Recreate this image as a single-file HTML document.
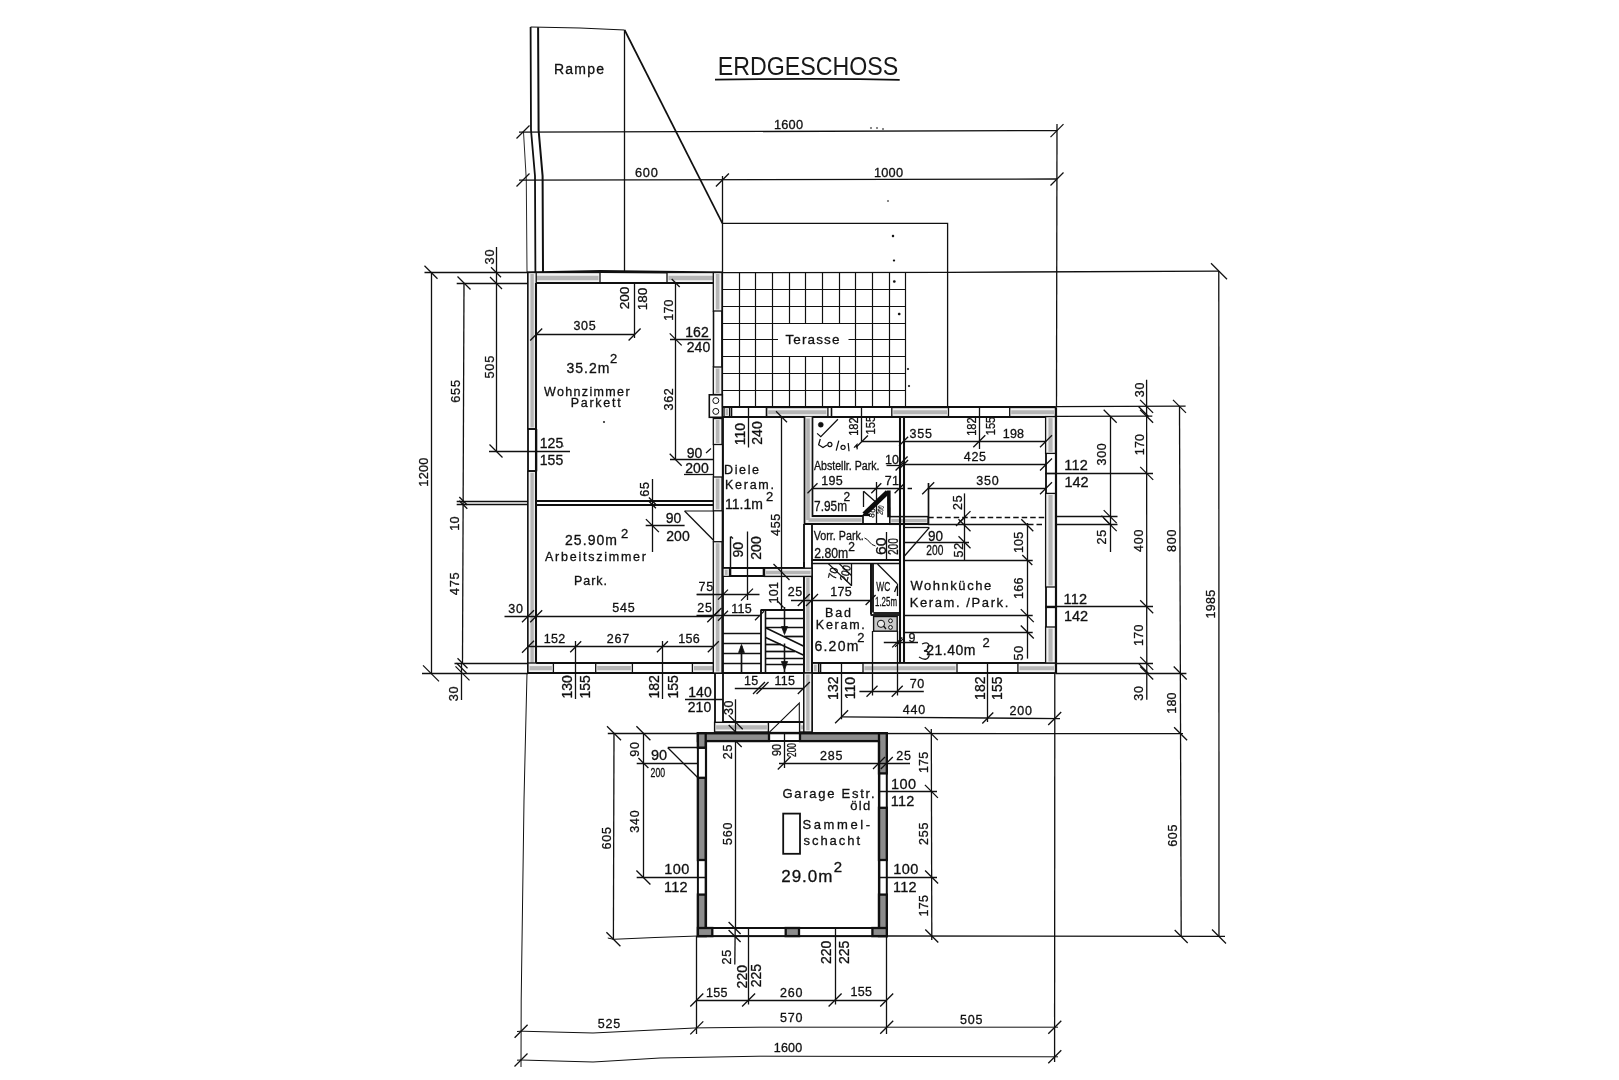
<!DOCTYPE html>
<html><head><meta charset="utf-8"><title>Erdgeschoss</title>
<style>
html,body{margin:0;padding:0;background:#ffffff;}
svg{display:block;font-family:"Liberation Sans",sans-serif;filter:grayscale(1);}
</style></head><body>
<svg width="1619" height="1080" viewBox="0 0 1619 1080">
<rect x="0" y="0" width="1619" height="1080" fill="#ffffff"/>
<text x="808" y="74.61" font-size="25.3" text-anchor="middle" textLength="180.5" lengthAdjust="spacingAndGlyphs" fill="#181818" stroke="#181818" stroke-width="0">ERDGESCHOSS</text>
<path d="M715 79.6 L760 79.2 L808 78.8 L860 79.2 L899.7 79.8" fill="none" stroke="#101010" stroke-width="1.7" stroke-linejoin="miter"/>
<path d="M530.6 27 L531 130 L535 176 L535.4 272" fill="none" stroke="#101010" stroke-width="1.8" stroke-linejoin="miter"/>
<path d="M538.1 27.3 L538.6 130 L542.6 176 L543 272" fill="none" stroke="#101010" stroke-width="2.0" stroke-linejoin="miter"/>
<path d="M523.5 132 L526.3 180 L527 272" fill="none" stroke="#101010" stroke-width="0.9" stroke-linejoin="miter"/>
<path d="M530.6 27 L580 28 L624.6 30" fill="none" stroke="#101010" stroke-width="1.1" stroke-linejoin="miter"/>
<line x1="624.5" y1="30" x2="624.5" y2="272" stroke="#101010" stroke-width="1.3"/>
<line x1="624.6" y1="30" x2="722.4" y2="223.3" stroke="#101010" stroke-width="1.6900000000000002"/>
<path d="M722.4 223.3 L947.6 223.3 L947.6 407" fill="none" stroke="#101010" stroke-width="1.3" stroke-linejoin="miter"/>
<line x1="722.5" y1="176" x2="722.5" y2="272" stroke="#101010" stroke-width="1.3"/>
<text x="579" y="73.54" font-size="14" text-anchor="middle" textLength="50" lengthAdjust="spacing" fill="#101010" stroke="#101010" stroke-width="0.3">Rampe</text>
<line x1="519" y1="132.2" x2="1057" y2="130.6" stroke="#101010" stroke-width="1.3"/>
<line x1="516.5" y1="138.5" x2="529.5" y2="125.5" stroke="#101010" stroke-width="1.3"/>
<line x1="1050.5" y1="137.1" x2="1063.5" y2="124.1" stroke="#101010" stroke-width="1.3"/>
<text x="788.625" y="129.11" font-size="12.8" text-anchor="middle" letter-spacing="0.25" fill="#101010" stroke="#101010" stroke-width="0.3">1600</text>
<line x1="519" y1="180.2" x2="1057" y2="179" stroke="#101010" stroke-width="1.3"/>
<line x1="516.5" y1="186.5" x2="529.5" y2="173.5" stroke="#101010" stroke-width="1.3"/>
<line x1="715.9" y1="186.5" x2="728.9" y2="173.5" stroke="#101010" stroke-width="1.3"/>
<line x1="1050.5" y1="185.5" x2="1063.5" y2="172.5" stroke="#101010" stroke-width="1.3"/>
<text x="646.775" y="177.11" font-size="12.8" text-anchor="middle" letter-spacing="0.75" fill="#101010" stroke="#101010" stroke-width="0.3">600</text>
<text x="888.625" y="177.11" font-size="12.8" text-anchor="middle" letter-spacing="0.25" fill="#101010" stroke="#101010" stroke-width="0.3">1000</text>
<line x1="1057" y1="124" x2="1056.5" y2="407" stroke="#101010" stroke-width="1.3"/>
<line x1="947.6" y1="272.3" x2="1219" y2="271.2" stroke="#101010" stroke-width="1.3"/>
<line x1="1211" y1="263.2" x2="1227" y2="279.2" stroke="#101010" stroke-width="1.3"/>
<line x1="1218.8" y1="271" x2="1219" y2="937" stroke="#101010" stroke-width="1.3"/>
<line x1="424.5" y1="272.5" x2="528" y2="272.5" stroke="#101010" stroke-width="1.3"/>
<line x1="456.7" y1="283.5" x2="528" y2="283.5" stroke="#101010" stroke-width="1.3"/>
<line x1="431.5" y1="272" x2="431.5" y2="673.4" stroke="#101010" stroke-width="1.3"/>
<line x1="424.5" y1="265.7" x2="437.5" y2="278.7" stroke="#101010" stroke-width="1.3"/>
<line x1="423" y1="665.4" x2="439" y2="681.4" stroke="#101010" stroke-width="1.3"/>
<line x1="464" y1="283" x2="462.5" y2="663" stroke="#101010" stroke-width="1.3"/>
<line x1="457.5" y1="276.5" x2="470.5" y2="289.5" stroke="#101010" stroke-width="1.3"/>
<line x1="459.3" y1="497" x2="467.3" y2="505" stroke="#101010" stroke-width="1.3"/>
<line x1="459.3" y1="500.8" x2="467.3" y2="508.8" stroke="#101010" stroke-width="1.3"/>
<line x1="457.5" y1="658.3" x2="467.5" y2="668.3" stroke="#101010" stroke-width="1.3"/>
<line x1="455.5" y1="666.4" x2="469.5" y2="680.4" stroke="#101010" stroke-width="1.3"/>
<line x1="456.5" y1="663" x2="466.5" y2="673" stroke="#101010" stroke-width="1.3"/>
<line x1="461.5" y1="663" x2="461.5" y2="700" stroke="#101010" stroke-width="1.3"/>
<line x1="496.5" y1="247" x2="496.5" y2="451" stroke="#101010" stroke-width="1.3"/>
<line x1="491" y1="267.2" x2="501" y2="277.2" stroke="#101010" stroke-width="1.3"/>
<line x1="490" y1="277" x2="502" y2="289" stroke="#101010" stroke-width="1.3"/>
<line x1="489.5" y1="444.5" x2="502.5" y2="457.5" stroke="#101010" stroke-width="1.3"/>
<text x="489" y="261.11" font-size="12.8" text-anchor="middle" transform="rotate(-90 489 256.5)" letter-spacing="0.75" fill="#101010" stroke="#101010" stroke-width="0.3">30</text>
<text x="489" y="371.31" font-size="12.8" text-anchor="middle" transform="rotate(-90 489 366.7)" letter-spacing="0.75" fill="#101010" stroke="#101010" stroke-width="0.3">505</text>
<text x="455.6" y="395.61" font-size="12.8" text-anchor="middle" transform="rotate(-90 455.6 391)" letter-spacing="0.75" fill="#101010" stroke="#101010" stroke-width="0.3">655</text>
<text x="423" y="476.61" font-size="12.8" text-anchor="middle" transform="rotate(-90 423 472)" letter-spacing="0.25" fill="#101010" stroke="#101010" stroke-width="0.3">1200</text>
<text x="454.5" y="528.01" font-size="12.8" text-anchor="middle" transform="rotate(-90 454.5 523.4)" letter-spacing="0.25" fill="#101010" stroke="#101010" stroke-width="0.3">10</text>
<text x="454.5" y="588.01" font-size="12.8" text-anchor="middle" transform="rotate(-90 454.5 583.4)" letter-spacing="0.75" fill="#101010" stroke="#101010" stroke-width="0.3">475</text>
<text x="453.4" y="698.11" font-size="12.8" text-anchor="middle" transform="rotate(-90 453.4 693.5)" letter-spacing="0.75" fill="#101010" stroke="#101010" stroke-width="0.3">30</text>
<line x1="489" y1="451.5" x2="570" y2="451.5" stroke="#101010" stroke-width="1.3"/>
<line x1="456.7" y1="501.5" x2="528" y2="501.5" stroke="#101010" stroke-width="1.4300000000000002"/>
<line x1="456.7" y1="504.5" x2="528" y2="504.5" stroke="#101010" stroke-width="1.4300000000000002"/>
<line x1="528" y1="501.0" x2="713.5" y2="501.0" stroke="#101010" stroke-width="1.9549999999999998"/>
<line x1="528" y1="505.0" x2="713.5" y2="505.0" stroke="#101010" stroke-width="1.9549999999999998"/>
<line x1="454.5" y1="663.5" x2="528" y2="663.5" stroke="#101010" stroke-width="1.3"/>
<line x1="422" y1="673.5" x2="528" y2="673.5" stroke="#101010" stroke-width="1.3"/>
<path d="M528 673 L528 272.3 L600 271 L722 272.3" fill="none" stroke="#101010" stroke-width="1.8" stroke-linejoin="miter"/>
<rect x="528" y="272.5" width="72.00" height="10.50" fill="#f3f3f3" stroke="#101010" stroke-width="1.3"/>
<line x1="529.50" y1="277.96" x2="598.50" y2="277.96" stroke="#b6b6b6" stroke-width="4.41"/>
<rect x="667" y="272.5" width="55.00" height="10.50" fill="#f3f3f3" stroke="#101010" stroke-width="1.3"/>
<line x1="668.50" y1="277.96" x2="720.50" y2="277.96" stroke="#b6b6b6" stroke-width="4.41"/>
<line x1="600" y1="272" x2="667" y2="272.5" stroke="#101010" stroke-width="2.07"/>
<line x1="600" y1="283.0" x2="667" y2="283.0" stroke="#101010" stroke-width="2.07"/>
<rect x="528" y="272.5" width="8.20" height="156.50" fill="#f3f3f3" stroke="#101010" stroke-width="1.3"/>
<line x1="532.10" y1="274.00" x2="532.10" y2="427.50" stroke="#b6b6b6" stroke-width="3.44"/>
<line x1="528" y1="429.0" x2="536.2" y2="429.0" stroke="#101010" stroke-width="1.8399999999999999"/>
<line x1="528" y1="471.0" x2="536.2" y2="471.0" stroke="#101010" stroke-width="1.8399999999999999"/>
<line x1="536.5" y1="429" x2="536.5" y2="471.3" stroke="#101010" stroke-width="1.56"/>
<rect x="528" y="471.3" width="8.20" height="201.70" fill="#f3f3f3" stroke="#101010" stroke-width="1.3"/>
<line x1="532.10" y1="472.80" x2="532.10" y2="671.50" stroke="#b6b6b6" stroke-width="3.44"/>
<path d="M536.2 283 L713.3 283" fill="none" stroke="#101010" stroke-width="1.8" stroke-linejoin="miter"/>
<line x1="536.0" y1="283" x2="536.0" y2="663" stroke="#101010" stroke-width="2.07"/>
<rect x="528" y="663" width="25.40" height="10.00" fill="#f3f3f3" stroke="#101010" stroke-width="1.3"/>
<line x1="529.50" y1="668.20" x2="551.90" y2="668.20" stroke="#b6b6b6" stroke-width="4.20"/>
<rect x="595.7" y="663" width="36.70" height="10.00" fill="#f3f3f3" stroke="#101010" stroke-width="1.3"/>
<line x1="597.20" y1="668.20" x2="630.90" y2="668.20" stroke="#b6b6b6" stroke-width="4.20"/>
<rect x="692.4" y="663" width="29.60" height="10.00" fill="#f3f3f3" stroke="#101010" stroke-width="1.3"/>
<line x1="693.90" y1="668.20" x2="720.50" y2="668.20" stroke="#b6b6b6" stroke-width="4.20"/>
<line x1="528" y1="673.0" x2="722" y2="673.0" stroke="#101010" stroke-width="2.07"/>
<line x1="536.2" y1="663.0" x2="713.3" y2="663.0" stroke="#101010" stroke-width="2.07"/>
<rect x="713.3" y="272.5" width="8.70" height="38.50" fill="#f3f3f3" stroke="#101010" stroke-width="1.3"/>
<line x1="717.65" y1="274.00" x2="717.65" y2="309.50" stroke="#b6b6b6" stroke-width="3.65"/>
<line x1="713.5" y1="311" x2="713.5" y2="367" stroke="#101010" stroke-width="1.56"/>
<line x1="722.0" y1="311" x2="722.0" y2="367" stroke="#101010" stroke-width="1.8399999999999999"/>
<rect x="713.3" y="367" width="8.70" height="27.50" fill="#f3f3f3" stroke="#101010" stroke-width="1.3"/>
<line x1="717.65" y1="368.50" x2="717.65" y2="393.00" stroke="#b6b6b6" stroke-width="3.65"/>
<rect x="709.3" y="394.8" width="13.00" height="22.50" fill="#ffffff" stroke="#101010" stroke-width="1.6"/>
<circle cx="715.8" cy="400.6" r="3.0" fill="none" stroke="#101010" stroke-width="1.0"/>
<circle cx="715.8" cy="411.4" r="3.0" fill="none" stroke="#101010" stroke-width="1.0"/>
<rect x="713.3" y="418.5" width="8.70" height="26.00" fill="#f3f3f3" stroke="#101010" stroke-width="1.3"/>
<line x1="717.65" y1="420.00" x2="717.65" y2="443.00" stroke="#b6b6b6" stroke-width="3.65"/>
<line x1="713.5" y1="444.5" x2="713.5" y2="477" stroke="#101010" stroke-width="1.3"/>
<line x1="722.5" y1="444.5" x2="722.5" y2="477" stroke="#101010" stroke-width="1.3"/>
<rect x="713.3" y="477" width="8.70" height="33.80" fill="#f3f3f3" stroke="#101010" stroke-width="1.3"/>
<line x1="717.65" y1="478.50" x2="717.65" y2="509.30" stroke="#b6b6b6" stroke-width="3.65"/>
<line x1="713.5" y1="510.8" x2="713.5" y2="541.7" stroke="#101010" stroke-width="1.3"/>
<line x1="722.5" y1="510.8" x2="722.5" y2="541.7" stroke="#101010" stroke-width="1.6099999999999999"/>
<rect x="713.3" y="541.7" width="8.70" height="131.30" fill="#f3f3f3" stroke="#101010" stroke-width="1.3"/>
<line x1="717.65" y1="543.20" x2="717.65" y2="671.50" stroke="#b6b6b6" stroke-width="3.65"/>
<line x1="723.0" y1="417" x2="723.0" y2="673" stroke="#101010" stroke-width="1.8399999999999999"/>
<line x1="536.2" y1="334.5" x2="634.6" y2="334.5" stroke="#101010" stroke-width="1.3"/>
<line x1="530.2" y1="340.5" x2="542.2" y2="328.5" stroke="#101010" stroke-width="1.3"/>
<line x1="628.6" y1="340.5" x2="640.6" y2="328.5" stroke="#101010" stroke-width="1.3"/>
<text x="584.975" y="330.30" font-size="12.5" text-anchor="middle" letter-spacing="0.75" fill="#101010" stroke="#101010" stroke-width="0.3">305</text>
<line x1="634.5" y1="283" x2="634.5" y2="338" stroke="#101010" stroke-width="1.3"/>
<text x="624.6" y="302.86" font-size="13.5" text-anchor="middle" transform="rotate(-90 624.6 298)" fill="#101010" stroke="#101010" stroke-width="0.3">200</text>
<text x="642.6" y="303.86" font-size="13.5" text-anchor="middle" transform="rotate(-90 642.6 299)" fill="#101010" stroke="#101010" stroke-width="0.3">180</text>
<line x1="675.5" y1="283" x2="675.5" y2="459.7" stroke="#101010" stroke-width="1.3"/>
<line x1="671.7" y1="279" x2="679.7" y2="287" stroke="#101010" stroke-width="1.3"/>
<line x1="669.7" y1="333.4" x2="681.7" y2="345.4" stroke="#101010" stroke-width="1.3"/>
<line x1="669.7" y1="453.7" x2="681.7" y2="465.7" stroke="#101010" stroke-width="1.3"/>
<text x="668" y="314.50" font-size="12.5" text-anchor="middle" transform="rotate(-90 668 310)" letter-spacing="0.25" fill="#101010" stroke="#101010" stroke-width="0.3">170</text>
<text x="668" y="403.50" font-size="12.5" text-anchor="middle" transform="rotate(-90 668 399)" letter-spacing="0.75" fill="#101010" stroke="#101010" stroke-width="0.3">362</text>
<line x1="670" y1="339.5" x2="711" y2="339.5" stroke="#101010" stroke-width="1.3"/>
<text x="697" y="337.04" font-size="14" text-anchor="middle" fill="#101010" stroke="#101010" stroke-width="0.3">162</text>
<text x="698.5" y="351.84" font-size="14" text-anchor="middle" fill="#101010" stroke="#101010" stroke-width="0.3">240</text>
<line x1="670" y1="459.5" x2="713.5" y2="459.5" stroke="#101010" stroke-width="1.3"/>
<text x="694.6" y="458.34" font-size="14" text-anchor="middle" fill="#101010" stroke="#101010" stroke-width="0.3">90</text>
<text x="697" y="473.24" font-size="14" text-anchor="middle" fill="#101010" stroke="#101010" stroke-width="0.3">200</text>
<line x1="706" y1="453" x2="711" y2="448.5" stroke="#101010" stroke-width="1.1700000000000002"/>
<line x1="684" y1="474.5" x2="713" y2="474.5" stroke="#101010" stroke-width="1.3"/>
<text x="588" y="373.34" font-size="14" text-anchor="middle" textLength="43" lengthAdjust="spacing" fill="#101010" stroke="#101010" stroke-width="0.3">35.2m</text>
<text x="613.5" y="362.68" font-size="13" text-anchor="middle" fill="#101010" stroke="#101010" stroke-width="0.3">2</text>
<text x="586.8" y="396.10" font-size="12.5" text-anchor="middle" textLength="85.6" lengthAdjust="spacing" fill="#101010" stroke="#101010" stroke-width="0.3">Wohnzimmer</text>
<text x="595.7" y="406.80" font-size="12.5" text-anchor="middle" textLength="50" lengthAdjust="spacing" fill="#101010" stroke="#101010" stroke-width="0.3">Parkett</text>
<text x="551.5" y="448.34" font-size="14" text-anchor="middle" fill="#101010" stroke="#101010" stroke-width="0.3">125</text>
<text x="551.5" y="465.24" font-size="14" text-anchor="middle" fill="#101010" stroke="#101010" stroke-width="0.3">155</text>
<line x1="652.5" y1="479" x2="652.5" y2="552" stroke="#101010" stroke-width="1.3"/>
<line x1="648.9" y1="497.5" x2="655.9" y2="504.5" stroke="#101010" stroke-width="1.3"/>
<line x1="648.9" y1="501.3" x2="655.9" y2="508.3" stroke="#101010" stroke-width="1.3"/>
<line x1="645.9" y1="519.1" x2="658.9" y2="532.1" stroke="#101010" stroke-width="1.3"/>
<text x="644.6" y="493.50" font-size="12.5" text-anchor="middle" transform="rotate(-90 644.6 489)" letter-spacing="0.75" fill="#101010" stroke="#101010" stroke-width="0.3">65</text>
<line x1="645.7" y1="525.5" x2="684.6" y2="525.5" stroke="#101010" stroke-width="1.3"/>
<text x="673.5" y="522.84" font-size="14" text-anchor="middle" fill="#101010" stroke="#101010" stroke-width="0.3">90</text>
<text x="678" y="540.84" font-size="14" text-anchor="middle" fill="#101010" stroke="#101010" stroke-width="0.3">200</text>
<path d="M684.6 511 L713.3 511" fill="none" stroke="#101010" stroke-width="1.0" stroke-linejoin="miter"/>
<line x1="684.6" y1="511" x2="713.3" y2="540" stroke="#101010" stroke-width="1.3"/>
<text x="591" y="544.64" font-size="14" text-anchor="middle" textLength="52" lengthAdjust="spacing" fill="#101010" stroke="#101010" stroke-width="0.3">25.90m</text>
<text x="624.6" y="537.88" font-size="13" text-anchor="middle" fill="#101010" stroke="#101010" stroke-width="0.3">2</text>
<text x="595.5" y="561.20" font-size="12.5" text-anchor="middle" textLength="101" lengthAdjust="spacing" fill="#101010" stroke="#101010" stroke-width="0.3">Arbeitszimmer</text>
<text x="590.5" y="584.80" font-size="12.5" text-anchor="middle" textLength="33" lengthAdjust="spacing" fill="#101010" stroke="#101010" stroke-width="0.3">Park.</text>
<line x1="697" y1="594.5" x2="713.3" y2="594.5" stroke="#101010" stroke-width="1.3"/>
<text x="706.175" y="591.20" font-size="12.5" text-anchor="middle" letter-spacing="0.75" fill="#101010" stroke="#101010" stroke-width="0.3">75</text>
<line x1="504.5" y1="616.5" x2="713.3" y2="616.5" stroke="#101010" stroke-width="1.3"/>
<line x1="522" y1="622.3" x2="534" y2="610.3" stroke="#101010" stroke-width="1.3"/>
<line x1="530.2" y1="622.3" x2="542.2" y2="610.3" stroke="#101010" stroke-width="1.3"/>
<line x1="707.3" y1="622.3" x2="719.3" y2="610.3" stroke="#101010" stroke-width="1.3"/>
<text x="515.975" y="612.70" font-size="12.5" text-anchor="middle" letter-spacing="0.75" fill="#101010" stroke="#101010" stroke-width="0.3">30</text>
<text x="623.875" y="612.30" font-size="12.5" text-anchor="middle" letter-spacing="0.75" fill="#101010" stroke="#101010" stroke-width="0.3">545</text>
<text x="704.975" y="612.30" font-size="12.5" text-anchor="middle" letter-spacing="0.75" fill="#101010" stroke="#101010" stroke-width="0.3">25</text>
<line x1="528" y1="646.5" x2="713.3" y2="646.5" stroke="#101010" stroke-width="1.3"/>
<line x1="522" y1="652.8" x2="534" y2="640.8" stroke="#101010" stroke-width="1.3"/>
<line x1="570.2" y1="652.3" x2="581.2" y2="641.3" stroke="#101010" stroke-width="1.3"/>
<line x1="656.9" y1="652.3" x2="667.9" y2="641.3" stroke="#101010" stroke-width="1.3"/>
<line x1="707.8" y1="652.3" x2="718.8" y2="641.3" stroke="#101010" stroke-width="1.3"/>
<text x="554.625" y="642.50" font-size="12.5" text-anchor="middle" letter-spacing="0.25" fill="#101010" stroke="#101010" stroke-width="0.3">152</text>
<text x="618.375" y="642.50" font-size="12.5" text-anchor="middle" letter-spacing="0.75" fill="#101010" stroke="#101010" stroke-width="0.3">267</text>
<text x="689.125" y="642.50" font-size="12.5" text-anchor="middle" letter-spacing="0.25" fill="#101010" stroke="#101010" stroke-width="0.3">156</text>
<line x1="575.5" y1="641" x2="575.5" y2="699" stroke="#101010" stroke-width="1.3"/>
<line x1="662.5" y1="641" x2="662.5" y2="699" stroke="#101010" stroke-width="1.3"/>
<text x="566.8" y="691.84" font-size="14" text-anchor="middle" transform="rotate(-90 566.8 686.8)" fill="#101010" stroke="#101010" stroke-width="0.3">130</text>
<text x="584.8" y="691.84" font-size="14" text-anchor="middle" transform="rotate(-90 584.8 686.8)" fill="#101010" stroke="#101010" stroke-width="0.3">155</text>
<text x="653.5" y="691.84" font-size="14" text-anchor="middle" transform="rotate(-90 653.5 686.8)" fill="#101010" stroke="#101010" stroke-width="0.3">182</text>
<text x="672.6" y="691.84" font-size="14" text-anchor="middle" transform="rotate(-90 672.6 686.8)" fill="#101010" stroke="#101010" stroke-width="0.3">155</text>
<line x1="685" y1="699.5" x2="723" y2="699.5" stroke="#101010" stroke-width="1.3"/>
<text x="700" y="697.24" font-size="14" text-anchor="middle" fill="#101010" stroke="#101010" stroke-width="0.3">140</text>
<text x="699.5" y="711.54" font-size="14" text-anchor="middle" fill="#101010" stroke="#101010" stroke-width="0.3">210</text>
<line x1="722.5" y1="272.6" x2="722.5" y2="407.3" stroke="#101010" stroke-width="1.1960000000000002"/>
<line x1="739.5" y1="272.6" x2="739.5" y2="407.3" stroke="#101010" stroke-width="1.1960000000000002"/>
<line x1="755.5" y1="272.6" x2="755.5" y2="407.3" stroke="#101010" stroke-width="1.1960000000000002"/>
<line x1="772.5" y1="272.6" x2="772.5" y2="407.3" stroke="#101010" stroke-width="1.1960000000000002"/>
<line x1="789.5" y1="272.6" x2="789.5" y2="323.1125" stroke="#101010" stroke-width="1.1960000000000002"/>
<line x1="789.5" y1="356.7875" x2="789.5" y2="407.3" stroke="#101010" stroke-width="1.1960000000000002"/>
<line x1="805.5" y1="272.6" x2="805.5" y2="323.1125" stroke="#101010" stroke-width="1.1960000000000002"/>
<line x1="805.5" y1="356.7875" x2="805.5" y2="407.3" stroke="#101010" stroke-width="1.1960000000000002"/>
<line x1="822.5" y1="272.6" x2="822.5" y2="323.1125" stroke="#101010" stroke-width="1.1960000000000002"/>
<line x1="822.5" y1="356.7875" x2="822.5" y2="407.3" stroke="#101010" stroke-width="1.1960000000000002"/>
<line x1="839.5" y1="272.6" x2="839.5" y2="323.1125" stroke="#101010" stroke-width="1.1960000000000002"/>
<line x1="839.5" y1="356.7875" x2="839.5" y2="407.3" stroke="#101010" stroke-width="1.1960000000000002"/>
<line x1="855.5" y1="272.6" x2="855.5" y2="407.3" stroke="#101010" stroke-width="1.1960000000000002"/>
<line x1="872.5" y1="272.6" x2="872.5" y2="407.3" stroke="#101010" stroke-width="1.1960000000000002"/>
<line x1="889.5" y1="272.6" x2="889.5" y2="407.3" stroke="#101010" stroke-width="1.1960000000000002"/>
<line x1="905.5" y1="272.6" x2="905.5" y2="407.3" stroke="#101010" stroke-width="1.1960000000000002"/>
<line x1="722.6" y1="272.5" x2="905.7" y2="272.5" stroke="#101010" stroke-width="1.1960000000000002"/>
<line x1="722.6" y1="289.5" x2="905.7" y2="289.5" stroke="#101010" stroke-width="1.1960000000000002"/>
<line x1="722.6" y1="306.5" x2="905.7" y2="306.5" stroke="#101010" stroke-width="1.1960000000000002"/>
<line x1="722.6" y1="323.5" x2="905.7" y2="323.5" stroke="#101010" stroke-width="1.1960000000000002"/>
<line x1="722.6" y1="339.5" x2="778" y2="339.5" stroke="#101010" stroke-width="1.1960000000000002"/>
<line x1="848.5" y1="339.5" x2="905.7" y2="339.5" stroke="#101010" stroke-width="1.1960000000000002"/>
<line x1="722.6" y1="356.5" x2="905.7" y2="356.5" stroke="#101010" stroke-width="1.1960000000000002"/>
<line x1="722.6" y1="373.5" x2="905.7" y2="373.5" stroke="#101010" stroke-width="1.1960000000000002"/>
<line x1="722.6" y1="390.5" x2="905.7" y2="390.5" stroke="#101010" stroke-width="1.1960000000000002"/>
<line x1="722.6" y1="407.5" x2="905.7" y2="407.5" stroke="#101010" stroke-width="1.1960000000000002"/>
<line x1="722.6" y1="272.6" x2="947.6" y2="272.4" stroke="#101010" stroke-width="1.1960000000000002"/>
<text x="812.5" y="344.36" font-size="13.5" text-anchor="middle" textLength="54" lengthAdjust="spacing" fill="#101010" stroke="#101010" stroke-width="0.3">Terasse</text>
<circle cx="893" cy="236" r="1.2" fill="#101010" stroke="#101010" stroke-width="0.1"/>
<circle cx="894" cy="260.5" r="1.1" fill="#101010" stroke="#101010" stroke-width="0.1"/>
<circle cx="894.3" cy="281.5" r="1.3" fill="#101010" stroke="#101010" stroke-width="0.1"/>
<circle cx="899.2" cy="314" r="1.3" fill="#101010" stroke="#101010" stroke-width="0.1"/>
<circle cx="908" cy="369" r="1.0" fill="#101010" stroke="#101010" stroke-width="0.1"/>
<circle cx="909" cy="386" r="1.0" fill="#101010" stroke="#101010" stroke-width="0.1"/>
<circle cx="871" cy="128" r="0.8" fill="#101010" stroke="#101010" stroke-width="0.1"/>
<circle cx="877" cy="128" r="0.8" fill="#101010" stroke="#101010" stroke-width="0.1"/>
<circle cx="883" cy="129" r="0.8" fill="#101010" stroke="#101010" stroke-width="0.1"/>
<circle cx="888" cy="201" r="0.8" fill="#101010" stroke="#101010" stroke-width="0.1"/>
<circle cx="604" cy="422" r="0.9" fill="#101010" stroke="#101010" stroke-width="0.1"/>
<circle cx="563" cy="446" r="0.6" fill="#101010" stroke="#101010" stroke-width="0.1"/>
<line x1="722" y1="407.0" x2="1055.7" y2="407.0" stroke="#101010" stroke-width="2.1849999999999996"/>
<rect x="724" y="407.5" width="5.60" height="9.10" fill="#f3f3f3" stroke="#101010" stroke-width="1.3"/>
<line x1="726.80" y1="409.00" x2="726.80" y2="415.10" stroke="#b6b6b6" stroke-width="2.35"/>
<line x1="731.5" y1="407.2" x2="731.5" y2="416.6" stroke="#101010" stroke-width="1.6099999999999999"/>
<line x1="748.5" y1="407.2" x2="748.5" y2="416.6" stroke="#101010" stroke-width="1.3"/>
<line x1="766.5" y1="407.2" x2="766.5" y2="416.6" stroke="#101010" stroke-width="1.6099999999999999"/>
<rect x="766.7" y="407.5" width="61.20" height="9.10" fill="#f3f3f3" stroke="#101010" stroke-width="1.3"/>
<line x1="768.20" y1="412.23" x2="826.40" y2="412.23" stroke="#b6b6b6" stroke-width="3.82"/>
<line x1="831.5" y1="407.2" x2="831.5" y2="416.6" stroke="#101010" stroke-width="1.6099999999999999"/>
<line x1="861.5" y1="407.2" x2="861.5" y2="416.6" stroke="#101010" stroke-width="1.3"/>
<rect x="891.8" y="407.5" width="56.70" height="9.10" fill="#f3f3f3" stroke="#101010" stroke-width="1.3"/>
<line x1="893.30" y1="412.23" x2="947.00" y2="412.23" stroke="#b6b6b6" stroke-width="3.82"/>
<line x1="979.5" y1="407.2" x2="979.5" y2="416.6" stroke="#101010" stroke-width="1.3"/>
<rect x="1009.7" y="407.5" width="45.80" height="9.10" fill="#f3f3f3" stroke="#101010" stroke-width="1.3"/>
<line x1="1011.20" y1="412.23" x2="1054.00" y2="412.23" stroke="#b6b6b6" stroke-width="3.82"/>
<line x1="722.6" y1="417.0" x2="1046" y2="417.0" stroke="#101010" stroke-width="2.1849999999999996"/>
<line x1="1056.0" y1="407.2" x2="1056.0" y2="673" stroke="#101010" stroke-width="2.1849999999999996"/>
<rect x="1045.6" y="416.6" width="9.90" height="36.80" fill="#f3f3f3" stroke="#101010" stroke-width="1.3"/>
<line x1="1050.55" y1="418.10" x2="1050.55" y2="451.90" stroke="#b6b6b6" stroke-width="4.16"/>
<line x1="1046.0" y1="453.4" x2="1046.0" y2="493.4" stroke="#101010" stroke-width="1.8399999999999999"/>
<line x1="1045.6" y1="473.5" x2="1055.5" y2="473.5" stroke="#101010" stroke-width="1.3"/>
<rect x="1045.6" y="493.4" width="9.90" height="93.60" fill="#f3f3f3" stroke="#101010" stroke-width="1.3"/>
<line x1="1050.55" y1="494.90" x2="1050.55" y2="585.50" stroke="#b6b6b6" stroke-width="4.16"/>
<line x1="1046.0" y1="587" x2="1046.0" y2="627" stroke="#101010" stroke-width="1.8399999999999999"/>
<line x1="1045.6" y1="607.5" x2="1055.5" y2="607.5" stroke="#101010" stroke-width="1.3"/>
<rect x="1045.6" y="627" width="9.90" height="36.20" fill="#f3f3f3" stroke="#101010" stroke-width="1.3"/>
<line x1="1050.55" y1="628.50" x2="1050.55" y2="661.70" stroke="#b6b6b6" stroke-width="4.16"/>
<line x1="812" y1="663.0" x2="1045.6" y2="663.0" stroke="#101010" stroke-width="2.1849999999999996"/>
<line x1="722" y1="673.0" x2="1055.5" y2="673.0" stroke="#101010" stroke-width="2.1849999999999996"/>
<rect x="812" y="663.2" width="6.60" height="9.60" fill="#f3f3f3" stroke="#101010" stroke-width="1.3"/>
<line x1="815.30" y1="664.70" x2="815.30" y2="671.30" stroke="#b6b6b6" stroke-width="2.77"/>
<line x1="820.5" y1="663.2" x2="820.5" y2="672.8" stroke="#101010" stroke-width="1.6099999999999999"/>
<rect x="863" y="663.2" width="94.00" height="9.60" fill="#f3f3f3" stroke="#101010" stroke-width="1.3"/>
<line x1="864.50" y1="668.19" x2="955.50" y2="668.19" stroke="#b6b6b6" stroke-width="4.03"/>
<line x1="987.5" y1="663.2" x2="987.5" y2="672.8" stroke="#101010" stroke-width="1.3"/>
<rect x="1017.9" y="663.2" width="37.60" height="9.60" fill="#f3f3f3" stroke="#101010" stroke-width="1.3"/>
<line x1="1019.40" y1="668.19" x2="1054.00" y2="668.19" stroke="#b6b6b6" stroke-width="4.03"/>
<path d="M804.5 416.8 L804.5 524 L863 524 L863 516.2 L812.5 516.2 L812.5 416.8" fill="#ececec" stroke="#101010" stroke-width="1.7" stroke-linejoin="miter"/>
<line x1="808.0" y1="418.5" x2="808.0" y2="520" stroke="#b2b2b2" stroke-width="3.6"/>
<line x1="808.5" y1="520.0" x2="861.5" y2="520.0" stroke="#b2b2b2" stroke-width="3.6"/>
<rect x="889.8" y="516.6" width="38.40" height="7.70" fill="#f3f3f3" stroke="#101010" stroke-width="1.5"/>
<line x1="891.30" y1="520.60" x2="926.70" y2="520.60" stroke="#b6b6b6" stroke-width="3.23"/>
<line x1="804.5" y1="524.0" x2="928.2" y2="524.0" stroke="#101010" stroke-width="1.9549999999999998"/>
<line x1="812.5" y1="516.0" x2="863" y2="516.0" stroke="#101010" stroke-width="1.9549999999999998"/>
<line x1="900.0" y1="416.8" x2="900.0" y2="663" stroke="#101010" stroke-width="2.07"/>
<line x1="904.0" y1="416.8" x2="904.0" y2="663" stroke="#101010" stroke-width="2.07"/>
<line x1="804.0" y1="524" x2="804.0" y2="568.2" stroke="#101010" stroke-width="1.8399999999999999"/>
<line x1="812.0" y1="524" x2="812.0" y2="562" stroke="#101010" stroke-width="1.8399999999999999"/>
<rect x="803.8" y="576.3" width="8.20" height="96.70" fill="#f3f3f3" stroke="#101010" stroke-width="1.5"/>
<line x1="807.90" y1="577.80" x2="807.90" y2="671.50" stroke="#b6b6b6" stroke-width="3.44"/>
<line x1="804.0" y1="562" x2="804.0" y2="740" stroke="#101010" stroke-width="1.8399999999999999"/>
<line x1="812.0" y1="562" x2="812.0" y2="731" stroke="#101010" stroke-width="1.8399999999999999"/>
<line x1="723" y1="568.0" x2="803.8" y2="568.0" stroke="#101010" stroke-width="2.07"/>
<line x1="723" y1="576.0" x2="803.8" y2="576.0" stroke="#101010" stroke-width="2.07"/>
<rect x="723" y="568.2" width="6.50" height="8.20" fill="#f3f3f3" stroke="#101010" stroke-width="1.2"/>
<line x1="726.25" y1="569.70" x2="726.25" y2="574.90" stroke="#b6b6b6" stroke-width="2.73"/>
<line x1="730.5" y1="568.2" x2="730.5" y2="576.4" stroke="#101010" stroke-width="1.6099999999999999"/>
<line x1="763.5" y1="568.2" x2="763.5" y2="576.4" stroke="#101010" stroke-width="1.6099999999999999"/>
<rect x="764.5" y="568.2" width="47.50" height="8.20" fill="#f3f3f3" stroke="#101010" stroke-width="1.4"/>
<line x1="766.00" y1="572.46" x2="810.50" y2="572.46" stroke="#b6b6b6" stroke-width="3.44"/>
<line x1="811.6" y1="560.0" x2="899.6" y2="560.0" stroke="#101010" stroke-width="1.9549999999999998"/>
<line x1="811.6" y1="563.5" x2="899.6" y2="563.5" stroke="#101010" stroke-width="1.7249999999999999"/>
<line x1="871.0" y1="563.6" x2="871.0" y2="614.6" stroke="#101010" stroke-width="1.9549999999999998"/>
<line x1="873.0" y1="563.6" x2="873.0" y2="612.6" stroke="#101010" stroke-width="1.8399999999999999"/>
<line x1="873.4" y1="613.0" x2="899.6" y2="613.0" stroke="#101010" stroke-width="1.8399999999999999"/>
<line x1="870.6" y1="615.0" x2="899.6" y2="615.0" stroke="#101010" stroke-width="1.8399999999999999"/>
<rect x="873.6" y="616.5" width="23.60" height="14.70" fill="#c9c9c9" stroke="#101010" stroke-width="1.4"/>
<circle cx="881" cy="623.8" r="3.6" fill="#e8e8e8" stroke="#101010" stroke-width="1.0"/>
<circle cx="890.5" cy="620.8" r="1.9" fill="#e8e8e8" stroke="#101010" stroke-width="1.0"/>
<circle cx="890.5" cy="627.4" r="1.9" fill="#e8e8e8" stroke="#101010" stroke-width="1.0"/>
<line x1="883.5" y1="626" x2="886" y2="629" stroke="#101010" stroke-width="1.3"/>
<line x1="872.5" y1="631" x2="872.5" y2="695.5" stroke="#101010" stroke-width="1.3"/>
<line x1="897.5" y1="631" x2="897.5" y2="695.5" stroke="#101010" stroke-width="1.3"/>
<line x1="841.5" y1="663.2" x2="841.5" y2="672.8" stroke="#101010" stroke-width="1.3"/>
<text x="741.5" y="474.00" font-size="12.5" text-anchor="middle" textLength="35" lengthAdjust="spacing" fill="#101010" stroke="#101010" stroke-width="0.3">Diele</text>
<text x="749.5" y="489.00" font-size="12.5" text-anchor="middle" textLength="49" lengthAdjust="spacing" fill="#101010" stroke="#101010" stroke-width="0.3">Keram.</text>
<text x="744" y="509.04" font-size="14" text-anchor="middle" textLength="38" lengthAdjust="spacing" fill="#101010" stroke="#101010" stroke-width="0.3">11.1m</text>
<text x="769.7" y="500.88" font-size="13" text-anchor="middle" fill="#101010" stroke="#101010" stroke-width="0.3">2</text>
<line x1="748.5" y1="417" x2="748.5" y2="447.5" stroke="#101010" stroke-width="1.3"/>
<text x="739.8" y="439.04" font-size="14" text-anchor="middle" transform="rotate(-90 739.8 434)" fill="#101010" stroke="#101010" stroke-width="0.3">110</text>
<text x="757" y="438.04" font-size="14" text-anchor="middle" transform="rotate(-90 757 433)" fill="#101010" stroke="#101010" stroke-width="0.3">240</text>
<line x1="781.5" y1="416.8" x2="781.5" y2="609.7" stroke="#101010" stroke-width="1.3"/>
<text x="775.3" y="529.00" font-size="12.5" text-anchor="middle" transform="rotate(-90 775.3 524.5)" letter-spacing="0.75" fill="#101010" stroke="#101010" stroke-width="0.3">455</text>
<line x1="776.0" y1="411.3" x2="787.0" y2="422.3" stroke="#101010" stroke-width="1.3"/>
<line x1="773.5" y1="564" x2="789.5" y2="580" stroke="#101010" stroke-width="1.3"/>
<line x1="747.5" y1="531.5" x2="747.5" y2="600" stroke="#101010" stroke-width="1.3"/>
<line x1="730.5" y1="536.6" x2="730.5" y2="568.2" stroke="#101010" stroke-width="1.4300000000000002"/>
<line x1="730.8" y1="536.6" x2="733" y2="538.5" stroke="#101010" stroke-width="1.3"/>
<text x="737.8" y="554.74" font-size="14" text-anchor="middle" transform="rotate(-90 737.8 549.7)" fill="#101010" stroke="#101010" stroke-width="0.3">90</text>
<text x="756" y="553.04" font-size="14" text-anchor="middle" transform="rotate(-90 756 548)" fill="#101010" stroke="#101010" stroke-width="0.3">200</text>
<line x1="696.5" y1="594.5" x2="759.5" y2="594.5" stroke="#101010" stroke-width="1.3"/>
<line x1="718" y1="599.6" x2="728" y2="589.6" stroke="#101010" stroke-width="1.3"/>
<line x1="741" y1="600.6" x2="753" y2="588.6" stroke="#101010" stroke-width="1.3"/>
<line x1="696.5" y1="615.5" x2="759.5" y2="615.5" stroke="#101010" stroke-width="1.3"/>
<line x1="718" y1="620.7" x2="728" y2="610.7" stroke="#101010" stroke-width="1.3"/>
<line x1="712.5" y1="617.0" x2="721.5" y2="608.0" stroke="#101010" stroke-width="1.3"/>
<line x1="755.0" y1="620.2" x2="764.0" y2="611.2" stroke="#101010" stroke-width="1.3"/>
<text x="741.625" y="612.50" font-size="12.5" text-anchor="middle" letter-spacing="0.25" fill="#101010" stroke="#101010" stroke-width="0.3">115</text>
<text x="773.4" y="597.10" font-size="12.5" text-anchor="middle" transform="rotate(-90 773.4 592.6)" letter-spacing="0.25" fill="#101010" stroke="#101010" stroke-width="0.3">101</text>
<text x="795.375" y="596.40" font-size="12.5" text-anchor="middle" letter-spacing="0.75" fill="#101010" stroke="#101010" stroke-width="0.3">25</text>
<line x1="791" y1="600.5" x2="870.6" y2="600.5" stroke="#101010" stroke-width="1.3"/>
<line x1="797.8" y1="606" x2="809.8" y2="594" stroke="#101010" stroke-width="1.3"/>
<line x1="806" y1="606" x2="818" y2="594" stroke="#101010" stroke-width="1.3"/>
<line x1="865.6" y1="605" x2="875.6" y2="595" stroke="#101010" stroke-width="1.3"/>
<text x="841.125" y="596.40" font-size="12.5" text-anchor="middle" letter-spacing="0.25" fill="#101010" stroke="#101010" stroke-width="0.3">175</text>
<line x1="723" y1="633.5" x2="761" y2="633.5" stroke="#101010" stroke-width="1.7249999999999999"/>
<line x1="723" y1="643.5" x2="761" y2="643.5" stroke="#101010" stroke-width="1.7249999999999999"/>
<line x1="723" y1="653.5" x2="761" y2="653.5" stroke="#101010" stroke-width="1.7249999999999999"/>
<line x1="723" y1="663.5" x2="761" y2="663.5" stroke="#101010" stroke-width="1.7249999999999999"/>
<line x1="741.5" y1="646" x2="741.5" y2="673" stroke="#101010" stroke-width="1.6900000000000002"/>
<path d="M741.5 644.5 L738.6 652.5 L744.4 652.5 Z" fill="#101010" stroke="#101010" stroke-width="0.8" stroke-linejoin="miter"/>
<line x1="761" y1="610.0" x2="803.8" y2="610.0" stroke="#101010" stroke-width="1.9549999999999998"/>
<line x1="761.0" y1="609.6" x2="761.0" y2="673" stroke="#101010" stroke-width="1.8399999999999999"/>
<line x1="765.5" y1="611" x2="765.5" y2="673" stroke="#101010" stroke-width="1.6099999999999999"/>
<line x1="765.6" y1="618.5" x2="803.8" y2="618.5" stroke="#101010" stroke-width="1.7249999999999999"/>
<line x1="765.6" y1="627.5" x2="803.8" y2="627.5" stroke="#101010" stroke-width="1.7249999999999999"/>
<line x1="784" y1="636.5" x2="803.8" y2="636.5" stroke="#101010" stroke-width="1.7249999999999999"/>
<line x1="765.6" y1="627.8" x2="803.8" y2="646.3" stroke="#101010" stroke-width="1.6099999999999999"/>
<line x1="765.6" y1="637.4" x2="803.8" y2="655.2" stroke="#101010" stroke-width="1.6099999999999999"/>
<line x1="765.6" y1="644.5" x2="781" y2="644.5" stroke="#101010" stroke-width="1.7249999999999999"/>
<line x1="765.6" y1="651.5" x2="795" y2="651.5" stroke="#101010" stroke-width="1.7249999999999999"/>
<line x1="765.6" y1="658.5" x2="803.8" y2="658.5" stroke="#101010" stroke-width="1.7249999999999999"/>
<line x1="765.6" y1="664.5" x2="803.8" y2="664.5" stroke="#101010" stroke-width="1.7249999999999999"/>
<line x1="784.5" y1="607" x2="784.5" y2="628" stroke="#101010" stroke-width="1.56"/>
<line x1="784.5" y1="643.5" x2="784.5" y2="673" stroke="#101010" stroke-width="1.56"/>
<path d="M781.4 626.5 L787.6 626.5 L784.5 634.5 Z" fill="#101010" stroke="#101010" stroke-width="0.8" stroke-linejoin="miter"/>
<path d="M781.4 661.5 L787.6 661.5 L784.5 670 Z" fill="#101010" stroke="#101010" stroke-width="0.8" stroke-linejoin="miter"/>
<line x1="778" y1="601.5" x2="783.5" y2="607.5" stroke="#101010" stroke-width="1.3"/>
<text x="846.7" y="469.70" font-size="12.5" text-anchor="middle" textLength="65.5" lengthAdjust="spacingAndGlyphs" fill="#101010" stroke="#101010" stroke-width="0.3">Abstellr. Park.</text>
<line x1="812.5" y1="488.5" x2="899.6" y2="488.5" stroke="#101010" stroke-width="1.3"/>
<line x1="807.5" y1="493.2" x2="817.5" y2="483.2" stroke="#101010" stroke-width="1.3"/>
<line x1="871.3" y1="493.2" x2="881.3" y2="483.2" stroke="#101010" stroke-width="1.3"/>
<line x1="894.6" y1="493.2" x2="904.6" y2="483.2" stroke="#101010" stroke-width="1.3"/>
<text x="832.125" y="485.10" font-size="12.5" text-anchor="middle" letter-spacing="0.25" fill="#101010" stroke="#101010" stroke-width="0.3">195</text>
<text x="891.925" y="485.10" font-size="12.5" text-anchor="middle" letter-spacing="0.25" fill="#101010" stroke="#101010" stroke-width="0.3">71</text>
<text x="892.125" y="464.30" font-size="12.5" text-anchor="middle" letter-spacing="0.25" fill="#101010" stroke="#101010" stroke-width="0.3">10</text>
<line x1="886.5" y1="465.5" x2="899" y2="465.5" stroke="#101010" stroke-width="1.3"/>
<line x1="895.6" y1="470.5" x2="903.6" y2="462.5" stroke="#101010" stroke-width="1.3"/>
<line x1="899.6" y1="464.5" x2="907.6" y2="456.5" stroke="#101010" stroke-width="1.3"/>
<text x="830.6" y="511.04" font-size="14" text-anchor="middle" textLength="33" lengthAdjust="spacingAndGlyphs" fill="#101010" stroke="#101010" stroke-width="0.3">7.95m</text>
<text x="846.8" y="500.52" font-size="12" text-anchor="middle" fill="#101010" stroke="#101010" stroke-width="0.3">2</text>
<line x1="861.5" y1="417" x2="861.5" y2="441.5" stroke="#101010" stroke-width="1.3"/>
<line x1="861.9" y1="441.5" x2="899.6" y2="441.5" stroke="#101010" stroke-width="1.3"/>
<line x1="855.9" y1="447.5" x2="867.9" y2="435.5" stroke="#101010" stroke-width="1.3"/>
<text x="853.4" y="431.10" font-size="12.5" text-anchor="middle" transform="rotate(-90 853.4 426.6)" textLength="18.5" lengthAdjust="spacingAndGlyphs" fill="#101010" stroke="#101010" stroke-width="0.3">182</text>
<text x="870.5" y="429.70" font-size="12.5" text-anchor="middle" transform="rotate(-90 870.5 425.2)" textLength="18.5" lengthAdjust="spacingAndGlyphs" fill="#101010" stroke="#101010" stroke-width="0.3">155</text>
<line x1="876.5" y1="482" x2="876.5" y2="524" stroke="#101010" stroke-width="1.3"/>
<line x1="863.5" y1="491.2" x2="863.5" y2="507" stroke="#101010" stroke-width="1.3"/>
<line x1="863.6" y1="491.2" x2="876.3" y2="502.5" stroke="#101010" stroke-width="1.3"/>
<line x1="864.2" y1="514.3" x2="887.6" y2="492" stroke="#0c0c0c" stroke-width="5.0"/>
<line x1="888.8" y1="490.4" x2="889" y2="517.3" stroke="#0c0c0c" stroke-width="3.6"/>
<line x1="862.8" y1="515.0" x2="870" y2="515.0" stroke="#0c0c0c" stroke-width="2.2"/>
<text x="872" y="515.38" font-size="8" text-anchor="middle" transform="rotate(-80 872 512.5)" letter-spacing="0.75" fill="#101010" stroke="#101010" stroke-width="0.2">80</text>
<text x="880.5" y="512.88" font-size="8" text-anchor="middle" transform="rotate(-80 880.5 510)" textLength="9" lengthAdjust="spacingAndGlyphs" fill="#101010" stroke="#101010" stroke-width="0.2">200</text>
<circle cx="820.8" cy="424.7" r="2.5" fill="#101010" stroke="#101010" stroke-width="0.5"/>
<path d="M817.1 433.4 L820.8 436.6 L837.9 419.3 M820.3 439 L818.6 444.8 L823 447.6 L827 445 M829.8 442.4 a2.1 2.1 0 1 0 0.1 0 M836.2 450.6 L838.8 440.6 M843 445.3 a2.1 2.1 0 1 0 0.1 0 M848.2 443 L849 451.2 M854 447.6 L857 444.5 L857.2 449.4" fill="none" stroke="#101010" stroke-width="1.25"/>
<text x="838.8" y="539.90" font-size="12.5" text-anchor="middle" textLength="50" lengthAdjust="spacingAndGlyphs" fill="#101010" stroke="#101010" stroke-width="0.3">Vorr. Park.</text>
<text x="831.3" y="557.60" font-size="15" text-anchor="middle" textLength="34" lengthAdjust="spacingAndGlyphs" fill="#101010" stroke="#101010" stroke-width="0.3">2.80m</text>
<text x="851.6" y="551.12" font-size="12" text-anchor="middle" fill="#101010" stroke="#101010" stroke-width="0.3">2</text>
<line x1="886.5" y1="532" x2="886.5" y2="560" stroke="#101010" stroke-width="1.3"/>
<text x="880" y="551.88" font-size="15.5" text-anchor="middle" transform="rotate(-90 880 546.3)" textLength="17.5" lengthAdjust="spacingAndGlyphs" fill="#101010" stroke="#101010" stroke-width="0.3">60</text>
<text x="892.9" y="551.64" font-size="14" text-anchor="middle" transform="rotate(-90 892.9 546.6)" textLength="17" lengthAdjust="spacingAndGlyphs" fill="#101010" stroke="#101010" stroke-width="0.3">200</text>
<path d="M864.5 538 q3 1 5 4 q2 3 6 4" fill="none" stroke="#1a1a1a" stroke-width="1.0"/>
<text x="838" y="616.90" font-size="12.5" text-anchor="middle" textLength="26" lengthAdjust="spacing" fill="#101010" stroke="#101010" stroke-width="0.3">Bad</text>
<text x="840.3" y="629.00" font-size="12.5" text-anchor="middle" textLength="49" lengthAdjust="spacing" fill="#101010" stroke="#101010" stroke-width="0.3">Keram.</text>
<text x="836.4" y="651.04" font-size="14" text-anchor="middle" textLength="44" lengthAdjust="spacing" fill="#101010" stroke="#101010" stroke-width="0.3">6.20m</text>
<text x="860.8" y="642.28" font-size="13" text-anchor="middle" fill="#101010" stroke="#101010" stroke-width="0.3">2</text>
<text x="883.3" y="590.50" font-size="12.5" text-anchor="middle" textLength="14" lengthAdjust="spacingAndGlyphs" fill="#101010" stroke="#101010" stroke-width="0.3">WC</text>
<text x="886" y="606.20" font-size="12.5" text-anchor="middle" textLength="22" lengthAdjust="spacingAndGlyphs" fill="#101010" stroke="#101010" stroke-width="0.3">1.25m</text>
<line x1="877.5" y1="564" x2="897" y2="583.5" stroke="#101010" stroke-width="1.3"/>
<line x1="897.5" y1="583.5" x2="897.5" y2="596" stroke="#101010" stroke-width="1.3"/>
<line x1="894.5" y1="592" x2="897" y2="586" stroke="#101010" stroke-width="1.3"/>
<text x="833" y="577.44" font-size="11.5" text-anchor="middle" transform="rotate(-76 833 573.3)" textLength="11.5" lengthAdjust="spacingAndGlyphs" fill="#101010" stroke="#101010" stroke-width="0.3">70</text>
<text x="845.2" y="577.34" font-size="11.5" text-anchor="middle" transform="rotate(-76 845.2 573.2)" textLength="16" lengthAdjust="spacingAndGlyphs" fill="#101010" stroke="#101010" stroke-width="0.3">200</text>
<line x1="828.3" y1="563.6" x2="851.7" y2="585.8" stroke="#101010" stroke-width="1.3"/>
<line x1="839.2" y1="563.6" x2="851.7" y2="575.8" stroke="#101010" stroke-width="1.3"/>
<line x1="851.5" y1="563.6" x2="851.5" y2="585.8" stroke="#101010" stroke-width="1.3"/>
<line x1="883.8" y1="642.5" x2="918" y2="642.5" stroke="#101010" stroke-width="1.3"/>
<line x1="892.2" y1="647.4" x2="902.2" y2="637.4" stroke="#101010" stroke-width="1.3"/>
<line x1="895.1" y1="646.9" x2="904.1" y2="637.9" stroke="#101010" stroke-width="1.3"/>
<text x="912" y="642.10" font-size="12.5" text-anchor="middle" fill="#101010" stroke="#101010" stroke-width="0.3">9</text>
<line x1="903.6" y1="441.5" x2="1046" y2="441.5" stroke="#101010" stroke-width="1.3"/>
<line x1="899.1" y1="445.7" x2="908.1" y2="436.7" stroke="#101010" stroke-width="1.3"/>
<line x1="973.3" y1="447.2" x2="985.3" y2="435.2" stroke="#101010" stroke-width="1.3"/>
<line x1="1040" y1="447.2" x2="1052" y2="435.2" stroke="#101010" stroke-width="1.3"/>
<text x="921.175" y="437.80" font-size="12.5" text-anchor="middle" letter-spacing="0.75" fill="#101010" stroke="#101010" stroke-width="0.3">355</text>
<text x="1013.525" y="437.80" font-size="12.5" text-anchor="middle" letter-spacing="0.25" fill="#101010" stroke="#101010" stroke-width="0.3">198</text>
<line x1="979.5" y1="417" x2="979.5" y2="449" stroke="#101010" stroke-width="1.3"/>
<text x="971.2" y="431.10" font-size="12.5" text-anchor="middle" transform="rotate(-90 971.2 426.6)" textLength="18.5" lengthAdjust="spacingAndGlyphs" fill="#101010" stroke="#101010" stroke-width="0.3">182</text>
<text x="990.4" y="430.50" font-size="12.5" text-anchor="middle" transform="rotate(-90 990.4 426)" textLength="18.5" lengthAdjust="spacingAndGlyphs" fill="#101010" stroke="#101010" stroke-width="0.3">155</text>
<line x1="903.6" y1="464.5" x2="1046" y2="464.5" stroke="#101010" stroke-width="1.3"/>
<line x1="899.1" y1="469.0" x2="908.1" y2="460.0" stroke="#101010" stroke-width="1.3"/>
<line x1="1040" y1="470.5" x2="1052" y2="458.5" stroke="#101010" stroke-width="1.3"/>
<text x="975.275" y="461.30" font-size="12.5" text-anchor="middle" letter-spacing="0.75" fill="#101010" stroke="#101010" stroke-width="0.3">425</text>
<line x1="928.2" y1="488.5" x2="1046" y2="488.5" stroke="#101010" stroke-width="1.3"/>
<line x1="922.2" y1="494.2" x2="934.2" y2="482.2" stroke="#101010" stroke-width="1.3"/>
<line x1="1040" y1="494.2" x2="1052" y2="482.2" stroke="#101010" stroke-width="1.3"/>
<line x1="899.6" y1="488.5" x2="912" y2="488.5" stroke="#101010" stroke-width="1.3" stroke-dasharray="5 3"/>
<text x="987.875" y="484.50" font-size="12.5" text-anchor="middle" letter-spacing="0.75" fill="#101010" stroke="#101010" stroke-width="0.3">350</text>
<line x1="928.5" y1="483" x2="928.5" y2="524.3" stroke="#101010" stroke-width="1.6900000000000002"/>
<line x1="928.2" y1="517.5" x2="1046" y2="517.5" stroke="#101010" stroke-width="1.3" stroke-dasharray="5.5 3"/>
<line x1="1055.5" y1="516.5" x2="1117.5" y2="516.5" stroke="#101010" stroke-width="1.3"/>
<line x1="928.2" y1="524.5" x2="1028" y2="524.5" stroke="#101010" stroke-width="1.3"/>
<line x1="1028" y1="524.5" x2="1046" y2="524.5" stroke="#101010" stroke-width="1.3" stroke-dasharray="5.5 3"/>
<line x1="1055.5" y1="524.5" x2="1117.5" y2="524.5" stroke="#101010" stroke-width="1.3"/>
<line x1="964.5" y1="493.4" x2="964.5" y2="560" stroke="#101010" stroke-width="1.3"/>
<line x1="958.5" y1="523.1" x2="970.5" y2="511.1" stroke="#101010" stroke-width="1.3"/>
<line x1="958.5" y1="519.3" x2="970.5" y2="531.3" stroke="#101010" stroke-width="1.3"/>
<line x1="956" y1="526" x2="966" y2="516" stroke="#101010" stroke-width="1.3"/>
<line x1="958.5" y1="536.3" x2="970.5" y2="548.3" stroke="#101010" stroke-width="1.3"/>
<text x="957.8" y="506.80" font-size="12.5" text-anchor="middle" transform="rotate(-90 957.8 502.3)" letter-spacing="0.75" fill="#101010" stroke="#101010" stroke-width="0.3">25</text>
<line x1="903.6" y1="542.5" x2="969" y2="542.5" stroke="#101010" stroke-width="1.3"/>
<text x="935.6" y="541.24" font-size="14" text-anchor="middle" textLength="15" lengthAdjust="spacingAndGlyphs" fill="#101010" stroke="#101010" stroke-width="0.3">90</text>
<text x="934.8" y="554.64" font-size="14" text-anchor="middle" textLength="17" lengthAdjust="spacingAndGlyphs" fill="#101010" stroke="#101010" stroke-width="0.3">200</text>
<line x1="929.3" y1="527.6" x2="903.6" y2="557" stroke="#101010" stroke-width="1.3"/>
<line x1="903.6" y1="527.5" x2="929.3" y2="527.5" stroke="#101010" stroke-width="1.3"/>
<text x="958.6" y="554.20" font-size="12.5" text-anchor="middle" transform="rotate(-90 958.6 549.7)" letter-spacing="0.75" fill="#101010" stroke="#101010" stroke-width="0.3">52</text>
<line x1="1027.5" y1="523" x2="1027.5" y2="658.6" stroke="#101010" stroke-width="1.3"/>
<line x1="1021.3" y1="519.3" x2="1033.3" y2="531.3" stroke="#101010" stroke-width="1.3"/>
<line x1="1022.3" y1="555" x2="1032.3" y2="565" stroke="#101010" stroke-width="1.3"/>
<line x1="1020.8" y1="609.1" x2="1033.8" y2="622.1" stroke="#101010" stroke-width="1.3"/>
<line x1="1020.8" y1="625.5" x2="1033.8" y2="638.5" stroke="#101010" stroke-width="1.3"/>
<text x="1018.6" y="546.80" font-size="12.5" text-anchor="middle" transform="rotate(-90 1018.6 542.3)" letter-spacing="0.25" fill="#101010" stroke="#101010" stroke-width="0.3">105</text>
<text x="1018.6" y="592.70" font-size="12.5" text-anchor="middle" transform="rotate(-90 1018.6 588.2)" letter-spacing="0.25" fill="#101010" stroke="#101010" stroke-width="0.3">166</text>
<text x="1018.6" y="657.20" font-size="12.5" text-anchor="middle" transform="rotate(-90 1018.6 652.7)" letter-spacing="0.75" fill="#101010" stroke="#101010" stroke-width="0.3">50</text>
<line x1="903.6" y1="560.5" x2="1032.7" y2="560.5" stroke="#101010" stroke-width="1.3"/>
<line x1="903.6" y1="615.5" x2="1032.7" y2="615.5" stroke="#101010" stroke-width="1.3"/>
<line x1="903.6" y1="632.5" x2="1032.7" y2="632.5" stroke="#101010" stroke-width="1.3"/>
<text x="950.8" y="589.88" font-size="13" text-anchor="middle" textLength="80.8" lengthAdjust="spacing" fill="#101010" stroke="#101010" stroke-width="0.3">Wohnküche</text>
<text x="959" y="606.98" font-size="13" text-anchor="middle" textLength="98.5" lengthAdjust="spacing" fill="#101010" stroke="#101010" stroke-width="0.3">Keram. /Park.</text>
<text x="950.8" y="654.74" font-size="14" text-anchor="middle" textLength="49" lengthAdjust="spacing" fill="#101010" stroke="#101010" stroke-width="0.3">21.40m</text>
<text x="986" y="646.88" font-size="13" text-anchor="middle" fill="#101010" stroke="#101010" stroke-width="0.3">2</text>
<path d="M922 644 q7 -3 7 2 q-1 4 -5 5 q6 0 5 5 q-2 6 -10 1" fill="none" stroke="#1a1a1a" stroke-width="1.3"/>
<line x1="1055.5" y1="406.6" x2="1185.6" y2="406.2" stroke="#101010" stroke-width="1.3"/>
<line x1="1055.5" y1="416.4" x2="1152.3" y2="416.2" stroke="#101010" stroke-width="1.3"/>
<line x1="1110.5" y1="416" x2="1110.5" y2="552" stroke="#101010" stroke-width="1.3"/>
<line x1="1103.7" y1="409.8" x2="1116.7" y2="422.8" stroke="#101010" stroke-width="1.3"/>
<line x1="1103.7" y1="510.1" x2="1116.7" y2="523.1" stroke="#101010" stroke-width="1.3"/>
<line x1="1103.7" y1="518.1" x2="1116.7" y2="531.1" stroke="#101010" stroke-width="1.3"/>
<line x1="1101.5" y1="515.6" x2="1111.5" y2="525.6" stroke="#101010" stroke-width="1.3"/>
<text x="1101.8" y="458.50" font-size="12.5" text-anchor="middle" transform="rotate(-90 1101.8 454)" letter-spacing="0.75" fill="#101010" stroke="#101010" stroke-width="0.3">300</text>
<text x="1101.8" y="541.30" font-size="12.5" text-anchor="middle" transform="rotate(-90 1101.8 536.8)" letter-spacing="0.75" fill="#101010" stroke="#101010" stroke-width="0.3">25</text>
<line x1="1146.6" y1="379.7" x2="1146.8" y2="699.8" stroke="#101010" stroke-width="1.3"/>
<line x1="1140.1" y1="399.9" x2="1153.1" y2="412.9" stroke="#101010" stroke-width="1.3"/>
<line x1="1140.1" y1="409.7" x2="1153.1" y2="422.7" stroke="#101010" stroke-width="1.3"/>
<line x1="1138.5" y1="406.5" x2="1148.5" y2="416.5" stroke="#101010" stroke-width="1.3"/>
<line x1="1140.2" y1="466.9" x2="1153.2" y2="479.9" stroke="#101010" stroke-width="1.3"/>
<line x1="1140.2" y1="600.3" x2="1153.2" y2="613.3" stroke="#101010" stroke-width="1.3"/>
<line x1="1140.2" y1="656.9" x2="1153.2" y2="669.9" stroke="#101010" stroke-width="1.3"/>
<line x1="1140.2" y1="666.5" x2="1153.2" y2="679.5" stroke="#101010" stroke-width="1.3"/>
<line x1="1138.5" y1="663.4" x2="1148.5" y2="673.4" stroke="#101010" stroke-width="1.3"/>
<text x="1139.7" y="394.00" font-size="12.5" text-anchor="middle" transform="rotate(-90 1139.7 389.5)" letter-spacing="0.75" fill="#101010" stroke="#101010" stroke-width="0.3">30</text>
<text x="1139" y="449.00" font-size="12.5" text-anchor="middle" transform="rotate(-90 1139 444.5)" letter-spacing="0.25" fill="#101010" stroke="#101010" stroke-width="0.3">170</text>
<text x="1139" y="544.90" font-size="12.5" text-anchor="middle" transform="rotate(-90 1139 540.4)" letter-spacing="0.75" fill="#101010" stroke="#101010" stroke-width="0.3">400</text>
<text x="1139" y="639.70" font-size="12.5" text-anchor="middle" transform="rotate(-90 1139 635.2)" letter-spacing="0.25" fill="#101010" stroke="#101010" stroke-width="0.3">170</text>
<text x="1138.8" y="697.50" font-size="12.5" text-anchor="middle" transform="rotate(-90 1138.8 693)" letter-spacing="0.75" fill="#101010" stroke="#101010" stroke-width="0.3">30</text>
<line x1="1179.5" y1="406.4" x2="1181.2" y2="937" stroke="#101010" stroke-width="1.3"/>
<line x1="1173.0" y1="399.9" x2="1186.0" y2="412.9" stroke="#101010" stroke-width="1.3"/>
<line x1="1173.7" y1="666.5" x2="1186.7" y2="679.5" stroke="#101010" stroke-width="1.3"/>
<line x1="1174.1" y1="727.2" x2="1187.1" y2="740.2" stroke="#101010" stroke-width="1.3"/>
<line x1="1174.7" y1="930.0" x2="1187.7" y2="943.0" stroke="#101010" stroke-width="1.3"/>
<text x="1171.6" y="544.90" font-size="12.5" text-anchor="middle" transform="rotate(-90 1171.6 540.4)" letter-spacing="0.75" fill="#101010" stroke="#101010" stroke-width="0.3">800</text>
<text x="1171.5" y="707.50" font-size="12.5" text-anchor="middle" transform="rotate(-90 1171.5 703)" letter-spacing="0.25" fill="#101010" stroke="#101010" stroke-width="0.3">180</text>
<text x="1172.5" y="839.80" font-size="12.5" text-anchor="middle" transform="rotate(-90 1172.5 835.3)" letter-spacing="0.75" fill="#101010" stroke="#101010" stroke-width="0.3">605</text>
<text x="1210" y="608.50" font-size="12.5" text-anchor="middle" transform="rotate(-90 1210 604)" letter-spacing="0.25" fill="#101010" stroke="#101010" stroke-width="0.3">1985</text>
<line x1="1212" y1="929.5" x2="1226" y2="943.5" stroke="#101010" stroke-width="1.3"/>
<line x1="1045.6" y1="473.5" x2="1153" y2="473.5" stroke="#101010" stroke-width="1.3"/>
<text x="1076" y="470.22" font-size="14.5" text-anchor="middle" textLength="23.5" lengthAdjust="spacing" fill="#101010" stroke="#101010" stroke-width="0.3">112</text>
<text x="1076.6" y="487.42" font-size="14.5" text-anchor="middle" textLength="24" lengthAdjust="spacing" fill="#101010" stroke="#101010" stroke-width="0.3">142</text>
<line x1="1045.6" y1="606.5" x2="1153" y2="606.5" stroke="#101010" stroke-width="1.3"/>
<text x="1075.3" y="604.42" font-size="14.5" text-anchor="middle" textLength="23.5" lengthAdjust="spacing" fill="#101010" stroke="#101010" stroke-width="0.3">112</text>
<text x="1076" y="621.42" font-size="14.5" text-anchor="middle" textLength="24" lengthAdjust="spacing" fill="#101010" stroke="#101010" stroke-width="0.3">142</text>
<line x1="1055.5" y1="663.5" x2="1153" y2="663.5" stroke="#101010" stroke-width="1.3"/>
<line x1="1055.5" y1="673.5" x2="1186.4" y2="673.5" stroke="#101010" stroke-width="1.3"/>
<line x1="1054.8" y1="673" x2="1054.6" y2="1062" stroke="#101010" stroke-width="1.3"/>
<line x1="803.8" y1="733.5" x2="1183" y2="733.7" stroke="#101010" stroke-width="1.3"/>
<line x1="886.5" y1="936" x2="1225" y2="936.3" stroke="#101010" stroke-width="1.3"/>
<line x1="715.0" y1="673" x2="715.0" y2="732" stroke="#101010" stroke-width="1.8399999999999999"/>
<line x1="723.0" y1="673" x2="723.0" y2="722.3" stroke="#101010" stroke-width="1.8399999999999999"/>
<rect x="714.6" y="722.3" width="53.80" height="9.70" fill="#f3f3f3" stroke="#101010" stroke-width="1.4"/>
<line x1="716.10" y1="727.34" x2="766.90" y2="727.34" stroke="#b6b6b6" stroke-width="4.07"/>
<rect x="799.6" y="722.3" width="12.40" height="9.70" fill="#f3f3f3" stroke="#101010" stroke-width="1.4"/>
<line x1="801.10" y1="727.34" x2="810.50" y2="727.34" stroke="#b6b6b6" stroke-width="4.07"/>
<line x1="723" y1="722.0" x2="803.8" y2="722.0" stroke="#101010" stroke-width="1.8399999999999999"/>
<line x1="768.4" y1="722.0" x2="799.6" y2="722.0" stroke="#101010" stroke-width="1.8399999999999999"/>
<line x1="768.4" y1="732.5" x2="799.6" y2="732.5" stroke="#101010" stroke-width="1.3"/>
<rect x="803.8" y="673" width="8.20" height="59.00" fill="#f3f3f3" stroke="#101010" stroke-width="1.4"/>
<line x1="807.90" y1="674.50" x2="807.90" y2="730.50" stroke="#b6b6b6" stroke-width="3.44"/>
<path d="M769 732.6 L799.3 703 L799.3 722.3" fill="none" stroke="#101010" stroke-width="1.1" stroke-linejoin="miter"/>
<line x1="735.5" y1="699.3" x2="735.5" y2="930" stroke="#101010" stroke-width="1.3"/>
<line x1="728.7" y1="715.3" x2="742.7" y2="729.3" stroke="#101010" stroke-width="1.3"/>
<line x1="728.7" y1="725" x2="742.7" y2="739" stroke="#101010" stroke-width="1.3"/>
<line x1="729.7" y1="735" x2="741.7" y2="747" stroke="#101010" stroke-width="1.3"/>
<text x="729" y="711.90" font-size="12.5" text-anchor="middle" transform="rotate(-90 729 707.4)" letter-spacing="0.75" fill="#101010" stroke="#101010" stroke-width="0.3">30</text>
<text x="727.5" y="756.00" font-size="12.5" text-anchor="middle" transform="rotate(-90 727.5 751.5)" letter-spacing="0.75" fill="#101010" stroke="#101010" stroke-width="0.3">25</text>
<line x1="734.8" y1="688.5" x2="803.8" y2="688.5" stroke="#101010" stroke-width="1.3"/>
<line x1="753" y1="694" x2="765" y2="682" stroke="#101010" stroke-width="1.3"/>
<line x1="756.5" y1="694" x2="768.5" y2="682" stroke="#101010" stroke-width="1.3"/>
<line x1="797.8" y1="694" x2="809.8" y2="682" stroke="#101010" stroke-width="1.3"/>
<text x="751.325" y="684.50" font-size="12.5" text-anchor="middle" letter-spacing="0.25" fill="#101010" stroke="#101010" stroke-width="0.3">15</text>
<text x="784.825" y="684.50" font-size="12.5" text-anchor="middle" letter-spacing="0.25" fill="#101010" stroke="#101010" stroke-width="0.3">115</text>
<line x1="841.5" y1="673" x2="841.5" y2="719.3" stroke="#101010" stroke-width="1.3"/>
<text x="832.9" y="693.24" font-size="14" text-anchor="middle" transform="rotate(-90 832.9 688.2)" fill="#101010" stroke="#101010" stroke-width="0.3">132</text>
<text x="850" y="693.24" font-size="14" text-anchor="middle" transform="rotate(-90 850 688.2)" fill="#101010" stroke="#101010" stroke-width="0.3">110</text>
<line x1="859.4" y1="691.5" x2="923.8" y2="691.5" stroke="#101010" stroke-width="1.3"/>
<line x1="866.5" y1="696.7" x2="877.5" y2="685.7" stroke="#101010" stroke-width="1.3"/>
<line x1="891.7" y1="696.7" x2="902.7" y2="685.7" stroke="#101010" stroke-width="1.3"/>
<text x="917.375" y="687.50" font-size="12.5" text-anchor="middle" letter-spacing="0.75" fill="#101010" stroke="#101010" stroke-width="0.3">70</text>
<line x1="841.6" y1="716.8" x2="1060" y2="718.6" stroke="#101010" stroke-width="1.3"/>
<line x1="835.1" y1="723.3" x2="848.1" y2="710.3" stroke="#101010" stroke-width="1.3"/>
<line x1="1048.2" y1="725.0" x2="1061.2" y2="712.0" stroke="#101010" stroke-width="1.3"/>
<text x="914.375" y="714.20" font-size="12.5" text-anchor="middle" letter-spacing="0.75" fill="#101010" stroke="#101010" stroke-width="0.3">440</text>
<text x="1021.075" y="715.10" font-size="12.5" text-anchor="middle" letter-spacing="0.75" fill="#101010" stroke="#101010" stroke-width="0.3">200</text>
<line x1="987.5" y1="673" x2="987.5" y2="722" stroke="#101010" stroke-width="1.3"/>
<line x1="982.3" y1="723.5" x2="993.3" y2="712.5" stroke="#101010" stroke-width="1.3"/>
<text x="980" y="693.24" font-size="14" text-anchor="middle" transform="rotate(-90 980 688.2)" fill="#101010" stroke="#101010" stroke-width="0.3">182</text>
<text x="997.4" y="693.24" font-size="14" text-anchor="middle" transform="rotate(-90 997.4 688.2)" fill="#101010" stroke="#101010" stroke-width="0.3">155</text>
<rect x="697.9" y="733.3" width="188.90" height="202.80" fill="none" stroke="#101010" stroke-width="2.0"/>
<rect x="697.9" y="733.3" width="71.10" height="7.80" fill="#8c8c8c" stroke="#101010" stroke-width="2.3"/>
<rect x="800" y="733.3" width="86.80" height="7.80" fill="#8c8c8c" stroke="#101010" stroke-width="2.3"/>
<line x1="784.5" y1="733.3" x2="784.5" y2="741.1" stroke="#101010" stroke-width="1.3"/>
<rect x="697.9" y="733.3" width="7.80" height="14.50" fill="#8c8c8c" stroke="#101010" stroke-width="2.3"/>
<rect x="697.9" y="777.8" width="7.80" height="82.20" fill="#8c8c8c" stroke="#101010" stroke-width="2.3"/>
<rect x="697.9" y="894.6" width="7.80" height="41.50" fill="#8c8c8c" stroke="#101010" stroke-width="2.3"/>
<line x1="705.5" y1="860" x2="705.5" y2="894.6" stroke="#101010" stroke-width="1.6099999999999999"/>
<rect x="879" y="733.3" width="7.80" height="40.10" fill="#8c8c8c" stroke="#101010" stroke-width="2.3"/>
<rect x="879" y="807.8" width="7.80" height="52.20" fill="#8c8c8c" stroke="#101010" stroke-width="2.3"/>
<rect x="879" y="894.6" width="7.80" height="41.50" fill="#8c8c8c" stroke="#101010" stroke-width="2.3"/>
<line x1="879.5" y1="773.4" x2="879.5" y2="807.8" stroke="#101010" stroke-width="1.6099999999999999"/>
<line x1="879.5" y1="860" x2="879.5" y2="894.6" stroke="#101010" stroke-width="1.6099999999999999"/>
<rect x="697.9" y="928" width="14.40" height="8.10" fill="#8c8c8c" stroke="#101010" stroke-width="2.3"/>
<rect x="785.7" y="928" width="13.30" height="8.10" fill="#8c8c8c" stroke="#101010" stroke-width="2.3"/>
<rect x="872.4" y="928" width="14.40" height="8.10" fill="#8c8c8c" stroke="#101010" stroke-width="2.3"/>
<line x1="705.7" y1="928.0" x2="879" y2="928.0" stroke="#101010" stroke-width="2.1849999999999996"/>
<line x1="705.7" y1="741.0" x2="879" y2="741.0" stroke="#101010" stroke-width="2.1849999999999996"/>
<line x1="706.0" y1="741.1" x2="706.0" y2="928" stroke="#101010" stroke-width="2.1849999999999996"/>
<line x1="879.0" y1="741.1" x2="879.0" y2="928" stroke="#101010" stroke-width="2.1849999999999996"/>
<text x="828.5" y="798.08" font-size="13" text-anchor="middle" textLength="92" lengthAdjust="spacing" fill="#101010" stroke="#101010" stroke-width="0.3">Garage Estr.</text>
<text x="860.3" y="810.18" font-size="13" text-anchor="middle" textLength="20" lengthAdjust="spacing" fill="#101010" stroke="#101010" stroke-width="0.3">öld</text>
<rect x="783.2" y="813.6" width="16.80" height="40.20" fill="none" stroke="#101010" stroke-width="1.8"/>
<text x="836.3" y="828.98" font-size="13" text-anchor="middle" textLength="67.8" lengthAdjust="spacing" fill="#101010" stroke="#101010" stroke-width="0.3">Sammel-</text>
<text x="831.8" y="844.68" font-size="13" text-anchor="middle" textLength="56.7" lengthAdjust="spacing" fill="#101010" stroke="#101010" stroke-width="0.3">schacht</text>
<text x="806.8" y="881.82" font-size="17" text-anchor="middle" textLength="51.2" lengthAdjust="spacing" fill="#101010" stroke="#101010" stroke-width="0.3">29.0m</text>
<text x="838" y="872.00" font-size="15" text-anchor="middle" fill="#101010" stroke="#101010" stroke-width="0.3">2</text>
<text x="727.9" y="837.90" font-size="12.5" text-anchor="middle" transform="rotate(-90 727.9 833.4)" letter-spacing="0.75" fill="#101010" stroke="#101010" stroke-width="0.3">560</text>
<text x="776" y="754.50" font-size="12.5" text-anchor="middle" transform="rotate(-90 776 750)" textLength="12" lengthAdjust="spacingAndGlyphs" fill="#101010" stroke="#101010" stroke-width="0.3">90</text>
<text x="791.3" y="754.50" font-size="12.5" text-anchor="middle" transform="rotate(-90 791.3 750)" textLength="14" lengthAdjust="spacingAndGlyphs" fill="#101010" stroke="#101010" stroke-width="0.3">200</text>
<line x1="784.5" y1="741" x2="784.5" y2="768" stroke="#101010" stroke-width="1.3"/>
<line x1="779" y1="763.5" x2="910" y2="763.5" stroke="#101010" stroke-width="1.3"/>
<line x1="777.8" y1="769.5" x2="790.8" y2="756.5" stroke="#101010" stroke-width="1.3"/>
<line x1="873" y1="769" x2="885" y2="757" stroke="#101010" stroke-width="1.3"/>
<line x1="880.8" y1="769" x2="892.8" y2="757" stroke="#101010" stroke-width="1.3"/>
<text x="831.675" y="759.50" font-size="12.5" text-anchor="middle" letter-spacing="0.75" fill="#101010" stroke="#101010" stroke-width="0.3">285</text>
<text x="903.975" y="759.90" font-size="12.5" text-anchor="middle" letter-spacing="0.75" fill="#101010" stroke="#101010" stroke-width="0.3">25</text>
<line x1="931.3" y1="729" x2="931.8" y2="940" stroke="#101010" stroke-width="1.3"/>
<line x1="924.8" y1="727.1" x2="937.8" y2="740.1" stroke="#101010" stroke-width="1.3"/>
<line x1="924.9" y1="784.9" x2="937.9" y2="797.9" stroke="#101010" stroke-width="1.3"/>
<line x1="925.1" y1="870.5" x2="938.1" y2="883.5" stroke="#101010" stroke-width="1.3"/>
<line x1="925.3" y1="929.5" x2="938.3" y2="942.5" stroke="#101010" stroke-width="1.3"/>
<text x="923.6" y="766.80" font-size="12.5" text-anchor="middle" transform="rotate(-90 923.6 762.3)" letter-spacing="0.25" fill="#101010" stroke="#101010" stroke-width="0.3">175</text>
<text x="923.6" y="837.90" font-size="12.5" text-anchor="middle" transform="rotate(-90 923.6 833.4)" letter-spacing="0.75" fill="#101010" stroke="#101010" stroke-width="0.3">255</text>
<text x="923.6" y="910.20" font-size="12.5" text-anchor="middle" transform="rotate(-90 923.6 905.7)" letter-spacing="0.25" fill="#101010" stroke="#101010" stroke-width="0.3">175</text>
<line x1="879" y1="791.5" x2="937" y2="791.5" stroke="#101010" stroke-width="1.3"/>
<text x="903.5" y="788.62" font-size="14.5" text-anchor="middle" textLength="25" lengthAdjust="spacing" fill="#101010" stroke="#101010" stroke-width="0.3">100</text>
<text x="902.6" y="806.42" font-size="14.5" text-anchor="middle" textLength="23.5" lengthAdjust="spacing" fill="#101010" stroke="#101010" stroke-width="0.3">112</text>
<line x1="879" y1="877.5" x2="937" y2="877.5" stroke="#101010" stroke-width="1.3"/>
<text x="905.8" y="874.22" font-size="14.5" text-anchor="middle" textLength="25" lengthAdjust="spacing" fill="#101010" stroke="#101010" stroke-width="0.3">100</text>
<text x="904.8" y="892.02" font-size="14.5" text-anchor="middle" textLength="23.5" lengthAdjust="spacing" fill="#101010" stroke="#101010" stroke-width="0.3">112</text>
<line x1="607.8" y1="733.5" x2="698" y2="733.5" stroke="#101010" stroke-width="1.3"/>
<path d="M607.8 938 L613.4 939.3 L655 937.5 L697.9 936" fill="none" stroke="#101010" stroke-width="1.0" stroke-linejoin="miter"/>
<line x1="614" y1="733.3" x2="613.4" y2="939.5" stroke="#101010" stroke-width="1.3"/>
<line x1="607" y1="726.3" x2="621" y2="740.3" stroke="#101010" stroke-width="1.3"/>
<line x1="606.4" y1="932.3" x2="620.4" y2="946.3" stroke="#101010" stroke-width="1.3"/>
<text x="606.7" y="842.40" font-size="12.5" text-anchor="middle" transform="rotate(-90 606.7 837.9)" letter-spacing="0.75" fill="#101010" stroke="#101010" stroke-width="0.3">605</text>
<line x1="643.5" y1="733.3" x2="643.5" y2="877.6" stroke="#101010" stroke-width="1.3"/>
<line x1="636.4" y1="726.3" x2="650.4" y2="740.3" stroke="#101010" stroke-width="1.3"/>
<line x1="638.4" y1="758" x2="648.4" y2="768" stroke="#101010" stroke-width="1.3"/>
<line x1="636.4" y1="870.5" x2="650.4" y2="884.5" stroke="#101010" stroke-width="1.3"/>
<text x="634.5" y="825.70" font-size="12.5" text-anchor="middle" transform="rotate(-90 634.5 821.2)" letter-spacing="0.75" fill="#101010" stroke="#101010" stroke-width="0.3">340</text>
<text x="634.5" y="753.50" font-size="12.5" text-anchor="middle" transform="rotate(-90 634.5 749)" letter-spacing="0.75" fill="#101010" stroke="#101010" stroke-width="0.3">90</text>
<line x1="636.7" y1="763.5" x2="698" y2="763.5" stroke="#101010" stroke-width="1.3"/>
<text x="659" y="759.52" font-size="14.5" text-anchor="middle" fill="#101010" stroke="#101010" stroke-width="0.3">90</text>
<text x="657.8" y="776.82" font-size="12" text-anchor="middle" textLength="14.5" lengthAdjust="spacingAndGlyphs" fill="#101010" stroke="#101010" stroke-width="0.3">200</text>
<line x1="667.8" y1="747.5" x2="705.7" y2="747.5" stroke="#101010" stroke-width="1.3"/>
<line x1="667.8" y1="747.8" x2="697.9" y2="777.8" stroke="#101010" stroke-width="1.3"/>
<line x1="636.7" y1="877.5" x2="705.7" y2="877.5" stroke="#101010" stroke-width="1.3"/>
<text x="676.8" y="874.02" font-size="14.5" text-anchor="middle" textLength="25" lengthAdjust="spacing" fill="#101010" stroke="#101010" stroke-width="0.3">100</text>
<text x="675.8" y="892.02" font-size="14.5" text-anchor="middle" textLength="23.5" lengthAdjust="spacing" fill="#101010" stroke="#101010" stroke-width="0.3">112</text>
<path d="M527 673 L524 800 L521.2 1000 L521 1067" fill="none" stroke="#101010" stroke-width="1.0" stroke-linejoin="miter"/>
<line x1="696.5" y1="936" x2="696.5" y2="1034" stroke="#101010" stroke-width="1.3"/>
<line x1="886.5" y1="936" x2="886.5" y2="1034" stroke="#101010" stroke-width="1.3"/>
<line x1="735.2" y1="928" x2="734.8" y2="964.5" stroke="#101010" stroke-width="1.3"/>
<line x1="728.6" y1="922" x2="740.6" y2="934" stroke="#101010" stroke-width="1.3"/>
<line x1="728.6" y1="930" x2="740.6" y2="942" stroke="#101010" stroke-width="1.3"/>
<text x="726.8" y="961.20" font-size="12.5" text-anchor="middle" transform="rotate(-90 726.8 956.7)" letter-spacing="0.75" fill="#101010" stroke="#101010" stroke-width="0.3">25</text>
<line x1="748.5" y1="928" x2="748.5" y2="1004.5" stroke="#101010" stroke-width="1.3"/>
<line x1="835.5" y1="928" x2="835.5" y2="1004.5" stroke="#101010" stroke-width="1.3"/>
<text x="742.4" y="981.74" font-size="14" text-anchor="middle" transform="rotate(-90 742.4 976.7)" fill="#101010" stroke="#101010" stroke-width="0.3">220</text>
<text x="756" y="980.64" font-size="14" text-anchor="middle" transform="rotate(-90 756 975.6)" fill="#101010" stroke="#101010" stroke-width="0.3">225</text>
<text x="825.7" y="957.34" font-size="14" text-anchor="middle" transform="rotate(-90 825.7 952.3)" fill="#101010" stroke="#101010" stroke-width="0.3">220</text>
<text x="843.5" y="957.34" font-size="14" text-anchor="middle" transform="rotate(-90 843.5 952.3)" fill="#101010" stroke="#101010" stroke-width="0.3">225</text>
<line x1="696.8" y1="1000.5" x2="886.7" y2="1000.5" stroke="#101010" stroke-width="1.3"/>
<line x1="690.3" y1="1006.5" x2="703.3" y2="993.5" stroke="#101010" stroke-width="1.3"/>
<line x1="742.1" y1="1006.5" x2="755.1" y2="993.5" stroke="#101010" stroke-width="1.3"/>
<line x1="828.6" y1="1006.5" x2="841.6" y2="993.5" stroke="#101010" stroke-width="1.3"/>
<line x1="880.2" y1="1006.5" x2="893.2" y2="993.5" stroke="#101010" stroke-width="1.3"/>
<text x="716.925" y="996.70" font-size="12.5" text-anchor="middle" letter-spacing="0.25" fill="#101010" stroke="#101010" stroke-width="0.3">155</text>
<text x="791.675" y="996.70" font-size="12.5" text-anchor="middle" letter-spacing="0.75" fill="#101010" stroke="#101010" stroke-width="0.3">260</text>
<text x="861.325" y="996.30" font-size="12.5" text-anchor="middle" letter-spacing="0.25" fill="#101010" stroke="#101010" stroke-width="0.3">155</text>
<path d="M517 1031.5 L521.1 1031.2 L593 1033 L696.8 1027.9 L760 1027.2 L1054.8 1027.2 L1058 1027.2" fill="none" stroke="#101010" stroke-width="1.0" stroke-linejoin="miter"/>
<line x1="514.6" y1="1037.7" x2="527.6" y2="1024.7" stroke="#101010" stroke-width="1.3"/>
<line x1="690.3" y1="1034.4" x2="703.3" y2="1021.4000000000001" stroke="#101010" stroke-width="1.3"/>
<line x1="880.2" y1="1033.7" x2="893.2" y2="1020.7" stroke="#101010" stroke-width="1.3"/>
<line x1="1048.3" y1="1033.7" x2="1061.3" y2="1020.7" stroke="#101010" stroke-width="1.3"/>
<text x="609.375" y="1027.90" font-size="12.5" text-anchor="middle" letter-spacing="0.75" fill="#101010" stroke="#101010" stroke-width="0.3">525</text>
<text x="791.675" y="1022.40" font-size="12.5" text-anchor="middle" letter-spacing="0.75" fill="#101010" stroke="#101010" stroke-width="0.3">570</text>
<text x="971.575" y="1023.50" font-size="12.5" text-anchor="middle" letter-spacing="0.75" fill="#101010" stroke="#101010" stroke-width="0.3">505</text>
<path d="M517 1060.2 L521 1060 L593 1062 L660 1058 L760 1056.2 L1054.8 1056.8 L1058 1056.8" fill="none" stroke="#101010" stroke-width="1.0" stroke-linejoin="miter"/>
<line x1="514.5" y1="1066.5" x2="527.5" y2="1053.5" stroke="#101010" stroke-width="1.3"/>
<line x1="1048.3" y1="1063.3" x2="1061.3" y2="1050.3" stroke="#101010" stroke-width="1.3"/>
<text x="788.125" y="1051.70" font-size="12.5" text-anchor="middle" letter-spacing="0.25" fill="#101010" stroke="#101010" stroke-width="0.3">1600</text>
</svg>
</body></html>
